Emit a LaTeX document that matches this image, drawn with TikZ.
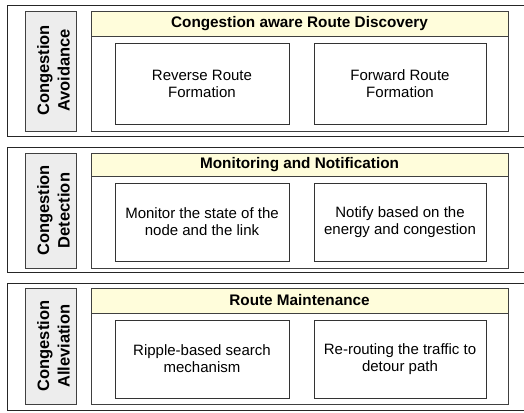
\documentclass[tikz,border=0pt]{standalone}
\usepackage{fontspec}
\setmainfont{Liberation Sans}
\begin{document}
\begin{tikzpicture}[x=1pt,y=-1pt,
  outerbox/.style={draw=black!85,line width=0.9pt},
  sidebox/.style={draw=black!75,line width=0.9pt,fill=black!7},
  contbox/.style={draw=black!75,line width=0.9pt,fill=white},
  headbox/.style={draw=black!75,line width=0.9pt,fill=yellow!14},
  itembox/.style={draw=black!80,line width=0.9pt,fill=white},
  sidetext/.style={font=\fontsize{16.5}{20.5}\selectfont\bfseries,align=center,rotate=90},
  headtext/.style={font=\fontsize{15.3}{17}\selectfont\bfseries},
  itemtext/.style={font=\fontsize{15}{17}\selectfont,align=center}]
\clip (0,0) rectangle (524,412);
\useasboundingbox (0,0) rectangle (524,412);
\fill[white] (0,0) rectangle (524,412);
% panel 1
\draw[outerbox] (7,5) rectangle (530,136);
\draw[sidebox] (25,11) rectangle (76,131);
\node[sidetext] (s1) at (53.5,70.5) {Congestion\\Avoidance};
\draw[contbox] (91,11) rectangle (508,131);
\draw[headbox] (91,11) rectangle (508,36);
\node[headtext] (h1) at (299.5,23.5) {Congestion aware Route Discovery};
\draw[itembox] (115,43) rectangle (289,124);
\node[itemtext] (a1) at (202,84) {Reverse Route\\Formation};
\draw[itembox] (314,43) rectangle (486,124);
\node[itemtext] (b1) at (400,84) {Forward Route\\Formation};
% panel 2
\draw[outerbox] (7,147) rectangle (530,272);
\draw[sidebox] (25,153) rectangle (76,268);
\node[sidetext] (s2) at (53.5,210.5) {Congestion\\Detection};
\draw[contbox] (91,153) rectangle (508,268);
\draw[headbox] (91,153) rectangle (508,176);
\node[headtext] (h2) at (299.5,164.5) {Monitoring and Notification};
\draw[itembox] (115,183) rectangle (289,261);
\node[itemtext] (a2) at (202,222) {Monitor the state of the\\node and the link};
\draw[itembox] (314,183) rectangle (486,261);
\node[itemtext] (b2) at (400,222) {Notify based on the\\energy and congestion};
% panel 3
\draw[outerbox] (7,283) rectangle (530,410);
\draw[sidebox] (25,288) rectangle (76,404);
\node[sidetext] (s3) at (53.5,346) {Congestion\\Alleviation};
\draw[contbox] (91,288) rectangle (508,404);
\draw[headbox] (91,288) rectangle (508,313);
\node[headtext] (h3) at (299.5,300.5) {Route Maintenance};
\draw[itembox] (115,320) rectangle (289,398);
\node[itemtext] (a3) at (202,359) {Ripple-based search\\mechanism};
\draw[itembox] (314,320) rectangle (486,398);
\node[itemtext] (b3) at (400,359) {Re-routing the traffic to\\detour path};
\end{tikzpicture}
\end{document}
